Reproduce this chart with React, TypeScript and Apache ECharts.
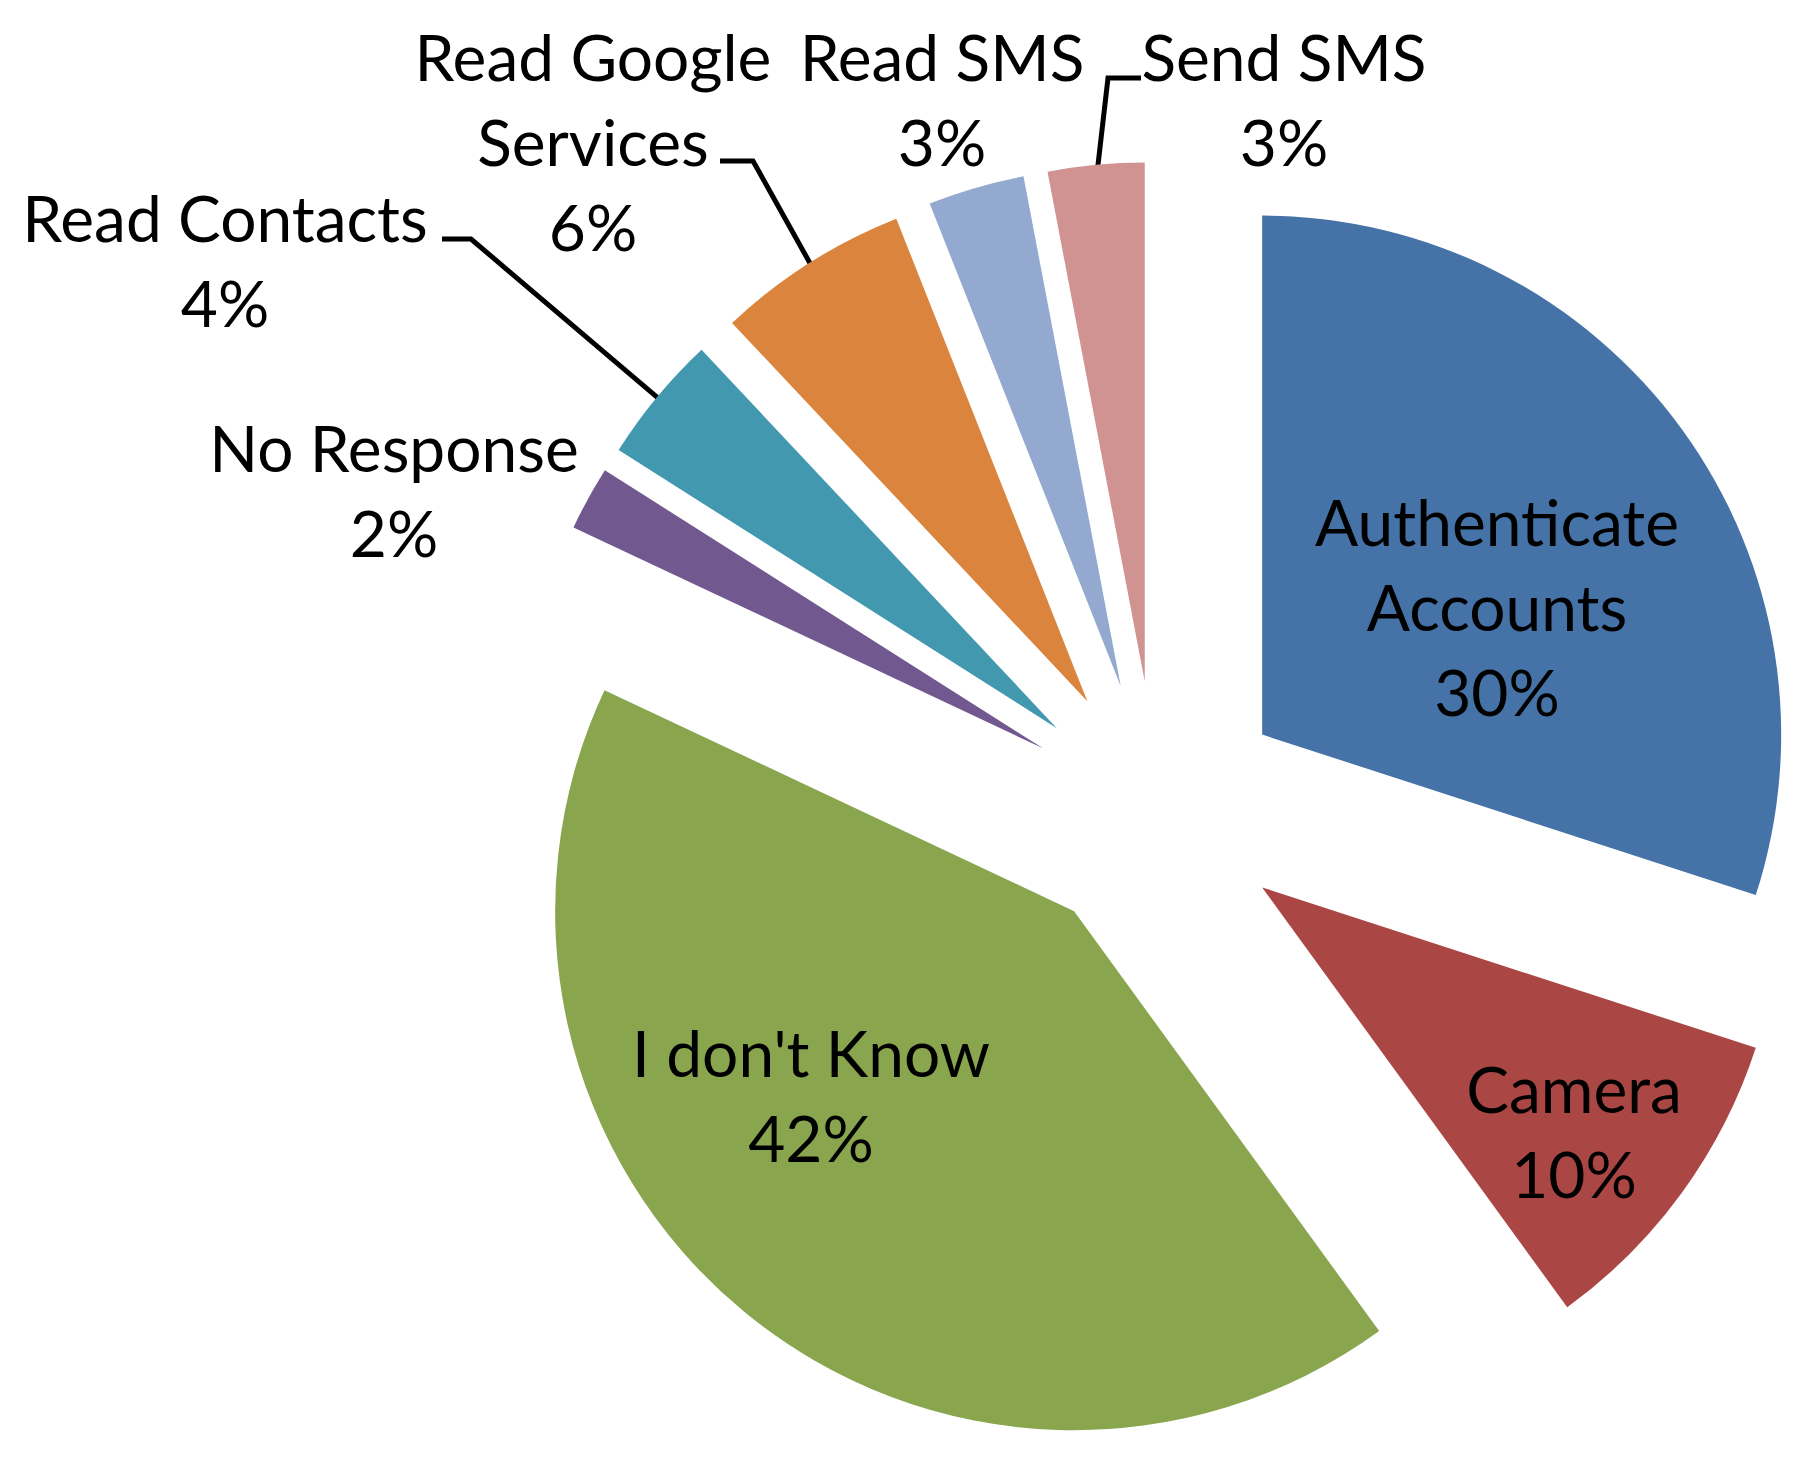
import React, { useEffect, useRef } from 'react';
import * as echarts from 'echarts';

// ---- data ----
const categories = [
  'Authenticate Accounts',
  'Camera',
  "I don't Know",
  'No Response',
  'Read Contacts',
  'Read Google Services',
  'Read SMS',
  'Send SMS',
];
const shares = [30, 10, 42, 2, 4, 6, 3, 3];

// ---- styling ----
const sliceColors = ['#4572A7', '#AA4643', '#89A54E', '#71588F', '#4198AF', '#DB843D', '#93A9CF', '#D19392'];
const wrapped: Record<string, string> = {
  'Authenticate Accounts': 'Authenticate\nAccounts',
  'Read Google Services': 'Read Google\nServices',
};
const CX = 1157;
const CY = 811;
const R = 519;
const OFFSET = 130;
const FONT = 'Lato, "Open Sans", sans-serif';
const FONT_SIZE = 64;
const LINE_H = 85;
const LEADER_WIDTH = 5;

// label centers and (optional) leader-line start/elbow, in page px
const labelPlace: { x: number; y: number; line?: [number, number][] }[] = [
  { x: 1497, y: 606 },
  { x: 1574, y: 1131 },
  { x: 811, y: 1095 },
  { x: 394, y: 490 },
  { x: 225, y: 260, line: [[442, 239], [471, 239]] },
  { x: 593, y: 141, line: [[720, 161], [753, 161]] },
  { x: 942, y: 99 },
  { x: 1284, y: 99, line: [[1141, 78], [1108, 78]] },
];

const total = shares.reduce((a, b) => a + b, 0);
function midAngle(idx: number): number {
  let before = 0;
  for (let i = 0; i < idx; i++) before += shares[i];
  return ((before + shares[idx] / 2) / total) * Math.PI * 2;
}
function sliceCenter(idx: number): [number, number] {
  const m = midAngle(idx);
  return [CX + OFFSET * Math.sin(m), CY - OFFSET * Math.cos(m)];
}
function sliceEdgePoint(idx: number): [number, number] {
  const m = midAngle(idx);
  const rr = OFFSET + R - 10;
  return [CX + rr * Math.sin(m), CY - rr * Math.cos(m)];
}

export default function App() {
  const ref = useRef<HTMLDivElement>(null);
  useEffect(() => {
    if (!ref.current) return;
    const chart = echarts.init(ref.current, undefined, { renderer: 'svg' });
    const series = categories.map((_, k) => ({
      type: 'pie',
      name: categories[k],
      center: sliceCenter(k),
      radius: [0, R],
      startAngle: 90,
      clockwise: true,
      silent: true,
      avoidLabelOverlap: false,
      emphasis: { disabled: true },
      itemStyle: { borderWidth: 0 },
      label: {
        show: false,
        color: '#000000',
        fontFamily: FONT,
        fontSize: FONT_SIZE,
        lineHeight: LINE_H,
        align: 'center',
        formatter: (p: any) => `${wrapped[p.name] ?? p.name}\n${Math.round(p.percent)}%`,
      },
      labelLine: {
        show: false,
        lineStyle: { color: '#000000', width: LEADER_WIDTH },
      },
      labelLayout: (params: any) => {
        const i = params.dataIndex;
        const place = labelPlace[i];
        const out: any = {
          x: place.x,
          y: place.y,
          align: 'center',
          verticalAlign: 'middle',
        };
        if (place.line) {
          out.labelLinePoints = [place.line[0], place.line[1], sliceEdgePoint(i)];
        }
        return out;
      },
      data: categories.map((name, i) => ({
        name,
        value: shares[i],
        itemStyle: { color: i === k ? sliceColors[i] : 'rgba(0,0,0,0)' },
        label: { show: i === k, position: labelPlace[i].line || i > 2 ? 'outside' : 'inside' },
        labelLine: {
          show: i === k && !!labelPlace[i].line,
          lineStyle: { color: '#000000', width: LEADER_WIDTH },
        },
      })),
    }));
    chart.setOption({
      animation: false,
      backgroundColor: '#ffffff',
      series,
    });
    return () => chart.dispose();
  }, []);
  return (
    <div
      ref={ref}
      style={{ position: 'absolute', left: 0, top: 0, width: 1801, height: 1465, background: '#fff' }}
    />
  );
}
